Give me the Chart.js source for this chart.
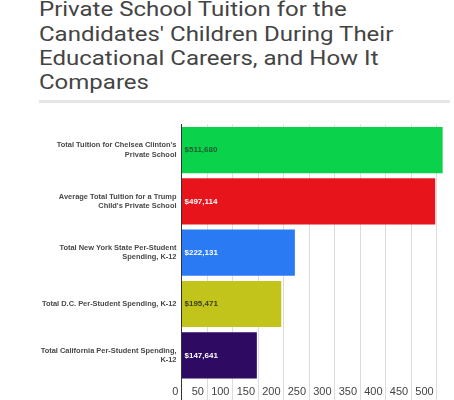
<!DOCTYPE html>
<html>
<head>
<meta charset="utf-8">
<script src="https://cdn.jsdelivr.net/npm/chart.js@4"></script>
<style>
  html, body { margin: 0; padding: 0; background: #fff; width: 454px; height: 400px; overflow: hidden; position: relative; }
  #title { position: absolute; left: 39px; top: -2px; width: 420px; white-space: nowrap; font-family: Roboto, "Noto Sans", sans-serif; font-size: 24px; line-height: 27.7px; color: #444; font-weight: 400; transform: scaleY(0.875); transform-origin: 0 0; }
  #rule { position: absolute; left: 39px; top: 100px; width: 411px; height: 3px; background: #e6e6e6; }
  #wrap { position: absolute; left: 0; top: 118px; width: 454px; height: 282px; }
</style>
</head>
<body>
<div id="title">Private School Tuition for the<br>Candidates' Children During Their<br>Educational Careers, and How It<br>Compares</div>
<div id="rule"></div>
<div id="wrap"><canvas id="c"></canvas></div>
<script>
const categories = [
  ["Total Tuition for Chelsea Clinton's", "Private School"],
  ["Average Total Tuition for a Trump", "Child's Private School"],
  ["Total New York State Per-Student", "Spending, K-12"],
  ["Total D.C. Per-Student Spending, K-12"],
  ["Total California Per-Student Spending,", "K-12"]
];
const values = [511680, 497114, 222131, 195471, 147641];
const valueLabels = ["$511,680", "$497,114", "$222,131", "$195,471", "$147,641"];
const tickValues = [0, 50000, 100000, 150000, 200000, 250000, 300000, 350000, 400000, 450000, 500000];
const tickLabels = ["0", "50", "100", "150", "200", "250", "300", "350", "400", "450", "500"];
const barColors = ["#0bd24b", "#e8141c", "#2a7af4", "#c2c41c", "#2e0a62"];
const labelColors = ["#1f5a30", "#ffffff", "#ffffff", "#3c3e14", "#ffffff"];

const valueLabelPlugin = {
  id: 'valueLabels',
  afterDatasetsDraw(chart) {
    const ctx = chart.ctx;
    const meta = chart.getDatasetMeta(0);
    ctx.save();
    ctx.font = 'bold 8px "Liberation Sans", Arial, sans-serif';
    ctx.textBaseline = 'middle';
    ctx.textAlign = 'left';
    meta.data.forEach((bar, i) => {
      ctx.fillStyle = labelColors[i];
      ctx.fillText(valueLabels[i], bar.base + 2.5, bar.y);
    });
    ctx.restore();
  }
};

new Chart(document.getElementById('c'), {
  type: 'bar',
  data: {
    labels: categories,
    datasets: [{
      data: values,
      backgroundColor: barColors,
      borderWidth: 0,
      categoryPercentage: 1,
      barPercentage: 0.9
    }]
  },
  options: {
    indexAxis: 'y',
    responsive: true,
    maintainAspectRatio: false,
    animation: false,
    layout: { padding: { top: 6.4, right: 2, left: 0, bottom: 0 } },
    plugins: { legend: { display: false }, tooltip: { enabled: false } },
    scales: {
      x: {
        min: 0,
        max: 530000,
        afterBuildTicks(scale) {
          scale.ticks = tickValues.map(v => ({ value: v }));
        },
        afterFit(scale) { scale.height = 19; scale.paddingLeft = 0; scale.paddingRight = 0; },
        border: { display: false },
        grid: {
          color: (c) => (c.tick && c.tick.value === 0) ? '#333333' : '#dcdcdc',
          lineWidth: 1,
          tickLength: 19,
          drawTicks: true
        },
        ticks: {
          align: 'end',
          padding: -15,
          maxRotation: 0,
          autoSkip: false,
          color: '#444',
          font: { family: '"Liberation Sans", Arial, sans-serif', size: 11 },
          callback: (v, i) => tickLabels[i] + ' '
        }
      },
      y: {
        afterFit(scale) { scale.width = 181.5; scale.paddingTop = 0; scale.paddingBottom = 0; },
        border: { display: true, color: '#333333', width: 1 },
        grid: { display: false, drawTicks: false, tickLength: 0 },
        ticks: {
          padding: 5,
          color: '#484848',
          font: { family: '"Liberation Sans", Arial, sans-serif', size: 7.45, weight: 'bold', lineHeight: 1.25 },
          autoSkip: false
        }
      }
    }
  },
  plugins: [valueLabelPlugin]
});
</script>
</body>
</html>
